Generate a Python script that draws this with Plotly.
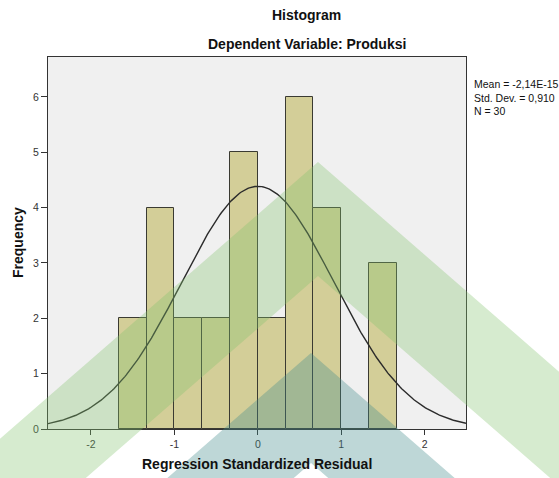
import numpy as np
import plotly.graph_objects as go

# ---- data ----
bin_start = -5 / 3
bin_width = 1 / 3
counts = [2, 4, 2, 2, 5, 2, 6, 4, 0, 3]
mean_val = -2.14e-15
std_val = 0.910
n_obs = 30
x_ticks = [-2, -1, 0, 1, 2]
y_ticks = [0, 1, 2, 3, 4, 5, 6]
stats_lines = ["Mean = -2,14E-15", "Std. Dev. = 0,910", "N = 30"]

FONT = "Liberation Sans, Arial, sans-serif"
W, H = 559, 478
L, R, T, B = 48, 466, 57, 429  # plot area in pixels
X_RANGE = [-2.515, 2.495]
Y_RANGE = [0, 6.72]

centers = [bin_start + bin_width * (i + 0.5) for i in range(len(counts))]

xc = np.linspace(X_RANGE[0], X_RANGE[1], 300)
yc = n_obs * bin_width * np.exp(-0.5 * ((xc - mean_val) / std_val) ** 2) / (std_val * np.sqrt(2 * np.pi))

fig = go.Figure()
fig.add_trace(go.Bar(
    x=centers, y=counts, width=bin_width,
    marker=dict(color="#d3ce98", line=dict(color="#3a3a32", width=1)),
    hoverinfo="skip", showlegend=False,
))
fig.add_trace(go.Scatter(
    x=xc, y=yc, mode="lines", line=dict(color="#2b2b2b", width=1.4),
    hoverinfo="skip", showlegend=False,
))


def px(xp):
    return (xp - L) / (R - L)


def py(yp):
    return (B - yp) / (B - T)


def chevron(apex_x, apex_y, thick, slope, color):
    far_l, far_r = -60, W + 100
    pts = [
        (far_l, apex_y + slope * (apex_x - far_l)),
        (apex_x, apex_y),
        (far_r, apex_y + slope * (far_r - apex_x)),
        (far_r, apex_y + thick + slope * (far_r - apex_x)),
        (apex_x, apex_y + thick),
        (far_l, apex_y + thick + slope * (apex_x - far_l)),
    ]
    path = "M " + " L ".join(f"{px(a):.4f},{py(b):.4f}" for a, b in pts) + " Z"
    return dict(type="path", path=path, xref="paper", yref="paper",
                fillcolor=color, line=dict(width=0), layer="above")


shapes = [
    chevron(318, 162, 114, 0.87, "rgba(130,195,110,0.33)"),
    chevron(311, 353, 110, 0.87, "rgba(70,140,140,0.35)"),
]

title_font = dict(family=FONT, size=14, color="#111")
annotations = [
    dict(text="<b>Histogram</b>", x=px(306), y=py(15), xref="paper", yref="paper",
         showarrow=False, font=title_font, xanchor="center", yanchor="middle"),
    dict(text="<b>Dependent Variable: Produksi</b>", x=px(307), y=py(44), xref="paper", yref="paper",
         showarrow=False, font=title_font, xanchor="center", yanchor="middle"),
    dict(text="<b>Regression Standardized Residual</b>", x=px(257), y=py(464), xref="paper", yref="paper",
         showarrow=False, font=title_font, xanchor="center", yanchor="middle"),
    dict(text="<b>Frequency</b>", x=px(18), y=py(243), xref="paper", yref="paper", textangle=-90,
         showarrow=False, font=title_font, xanchor="center", yanchor="middle"),
    dict(text="<br>".join(stats_lines), x=px(472), y=py(76), xref="paper", yref="paper",
         showarrow=False, align="left", xanchor="left", yanchor="top",
         font=dict(family=FONT, size=10.5, color="#111")),
]

fig.update_layout(
    width=W, height=H,
    margin=dict(l=L, r=W - R, t=T, b=H - B, pad=0, autoexpand=False),
    paper_bgcolor="white", plot_bgcolor="#f0f0f0",
    bargap=0, showlegend=False,
    font=dict(family=FONT, color="#222"),
    shapes=shapes, annotations=annotations,
    xaxis=dict(
        range=X_RANGE, tickvals=x_ticks, ticktext=[str(v) for v in x_ticks],
        ticks="outside", ticklen=5, tickcolor="#333", showgrid=False, zeroline=False,
        showline=True, linecolor="#333", linewidth=1, mirror=True, automargin=False,
        tickfont=dict(family=FONT, size=10.5, color="#333"),
    ),
    yaxis=dict(
        range=Y_RANGE, tickvals=y_ticks, ticktext=[str(v) for v in y_ticks],
        ticks="outside", ticklen=6, tickcolor="#333", showgrid=False, zeroline=False,
        showline=True, linecolor="#333", linewidth=1, mirror=True, automargin=False,
        tickfont=dict(family=FONT, size=10.5, color="#333"),
    ),
)

fig.write_html(
    "out.html",
    config={"displayModeBar": False},
    post_script="document.body.style.margin='0';document.body.style.overflow='hidden';",
)
